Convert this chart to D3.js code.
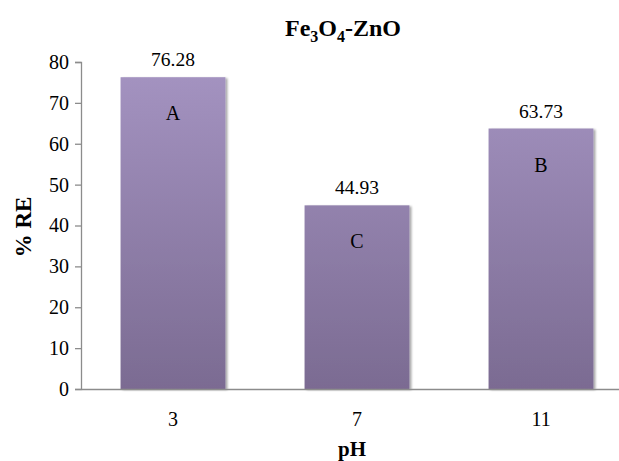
<!DOCTYPE html>
<html><head><meta charset="utf-8">
<script src="https://cdn.jsdelivr.net/npm/d3@7"></script>
<style>body{margin:0;background:#fff}svg{display:block}</style>
</head><body><svg id="c" width="619" height="461" font-family="Liberation Serif, Times New Roman, DejaVu Serif, serif"></svg>
<script>
const categories = ["3", "7", "11"];
const values = [76.28, 44.93, 63.73];
const groups = ["A", "C", "B"];
const yTicks = [0, 10, 20, 30, 40, 50, 60, 70, 80];

const FONT = "Liberation Serif, Times New Roman, DejaVu Serif, serif";
const svg = d3.select("#c");
const x = d3.scaleBand().domain(categories).range([81, 633]).paddingInner(0.43).paddingOuter(0.215);
const y = d3.scaleLinear().domain([0, 80]).range([389, 62]);

const defs = svg.append("defs");
const g = defs.append("linearGradient").attr("id", "bg").attr("gradientUnits", "userSpaceOnUse")
  .attr("x1", 0).attr("x2", 0).attr("y1", 62).attr("y2", 389);
g.append("stop").attr("offset", "0%").attr("stop-color", "#a594c2");
g.append("stop").attr("offset", "100%").attr("stop-color", "#7b6b92");
const f = defs.append("filter").attr("id", "sh").attr("x", "-10%").attr("y", "-10%").attr("width", "130%").attr("height", "130%");
f.append("feGaussianBlur").attr("in", "SourceAlpha").attr("stdDeviation", 1.2).attr("result", "b");
f.append("feOffset").attr("in", "b").attr("dx", 1.5).attr("dy", 1).attr("result", "o");
f.append("feComponentTransfer").attr("in", "o").attr("result", "o2").append("feFuncA").attr("type", "linear").attr("slope", 0.35);
const m = f.append("feMerge"); m.append("feMergeNode").attr("in", "o2"); m.append("feMergeNode").attr("in", "SourceGraphic");

svg.append("g").selectAll("rect").data(values).join("rect")
  .attr("x", (d, i) => x(categories[i]))
  .attr("width", x.bandwidth())
  .attr("y", d => y(d))
  .attr("height", d => y(0) - y(d))
  .attr("fill", "url(#bg)")
  .attr("filter", "url(#sh)");

const ya = svg.append("g").attr("transform", "translate(81,0)")
  .call(d3.axisLeft(y).tickValues(yTicks).tickSize(6).tickPadding(6))
  .attr("font-family", FONT).attr("font-size", 20);
ya.select(".domain").attr("stroke", "#8c8c8c").attr("stroke-width", 1.3);
ya.selectAll(".tick line").attr("stroke", "#8c8c8c").attr("stroke-width", 1.3);
ya.selectAll(".tick text").attr("fill", "#000");

const xa = svg.append("g").attr("transform", "translate(0,389)")
  .call(d3.axisBottom(x).tickSize(0).tickPadding(23))
  .attr("font-family", FONT).attr("font-size", 20);
xa.select(".domain").attr("stroke", "#8c8c8c").attr("stroke-width", 1.3);
xa.selectAll(".tick text").attr("fill", "#000");

svg.append("g").attr("font-size", 19.5).selectAll("text").data(values).join("text")
  .attr("x", (d, i) => x(categories[i]) + x.bandwidth() / 2)
  .attr("y", d => y(d) - 11)
  .attr("text-anchor", "middle")
  .text(d => d.toFixed(2));

svg.append("g").attr("font-size", 20).selectAll("text").data(values).join("text")
  .attr("x", (d, i) => x(categories[i]) + x.bandwidth() / 2)
  .attr("y", d => y(d) + 43)
  .attr("text-anchor", "middle")
  .text((d, i) => groups[i]);

const t = svg.append("text").attr("x", 343).attr("y", 36).attr("text-anchor", "middle")
  .attr("font-size", 24).attr("font-weight", "bold");
t.append("tspan").text("Fe");
t.append("tspan").attr("dy", 6).attr("font-size", 16).text("3");
t.append("tspan").attr("dy", -6).text("O");
t.append("tspan").attr("dy", 6).attr("font-size", 16).text("4");
t.append("tspan").attr("dy", -6).text("-ZnO");

svg.append("text").attr("x", 352).attr("y", 456).attr("text-anchor", "middle")
  .attr("font-size", 21).attr("font-weight", "bold").text("pH");
svg.append("text").attr("transform", "translate(31,227) rotate(-90)").attr("text-anchor", "middle")
  .attr("font-size", 23).attr("font-weight", "bold").text("% RE");
</script></body></html>
